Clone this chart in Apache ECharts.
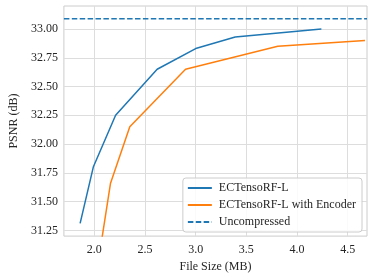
<!DOCTYPE html>
<html>
<head>
<meta charset="utf-8">
<script src="https://cdn.jsdelivr.net/npm/echarts@6/dist/echarts.min.js"></script>
<style>
html,body{margin:0;padding:0;background:#fff;}
#chart{width:374px;height:278px;}
</style>
</head>
<body>
<div id="chart"></div>
<script>
// Data
const blueX = [1.86, 1.99, 2.21, 2.62, 3.00, 3.39, 4.24];
const blueY = [31.31, 31.80, 32.25, 32.65, 32.83, 32.93, 33.00];
const orangeX = [2.07, 2.16, 2.35, 2.90, 3.81, 4.67];
const orangeY = [31.15, 31.66, 32.15, 32.65, 32.85, 32.90];
const uncompressedX = [1.70, 4.69];
const uncompressedY = [33.09, 33.09];
const xTicks = [2.0, 2.5, 3.0, 3.5, 4.0, 4.5];
const yTicks = [31.25, 31.50, 31.75, 32.00, 32.25, 32.50, 32.75, 33.00];
const seriesNames = ['ECTensoRF-L', 'ECTensoRF-L with Encoder', 'Uncompressed'];

const zip = (xs, ys) => xs.map((x, i) => [x, ys[i]]);
const font = 'Liberation Serif';
const textColor = '#262626';

const chart = echarts.init(document.getElementById('chart'), null, {renderer: 'canvas'});
chart.setOption({
  animation: false,
  backgroundColor: '#ffffff',
  grid: {left: 55, right: 7, top: 6, bottom: 40, show: true, borderColor: '#cccccc', borderWidth: 1, containLabel: false},
  xAxis: {
    type: 'value', min: 1.70, max: 4.69,
    name: 'File Size (MB)', nameLocation: 'middle', nameGap: 21,
    nameTextStyle: {fontFamily: font, fontSize: 12, color: textColor},
    axisLine: {show: false},
    axisTick: {show: false, customValues: xTicks},
    axisLabel: {customValues: xTicks, formatter: v => v.toFixed(1), fontFamily: font, fontSize: 12, color: textColor, margin: 8},
    splitLine: {show: true, lineStyle: {color: '#dddddd', width: 1}}
  },
  yAxis: {
    type: 'value', min: 31.2, max: 33.2,
    name: 'PSNR (dB)', nameLocation: 'middle', nameGap: 37,
    nameTextStyle: {fontFamily: font, fontSize: 12, color: textColor},
    axisLine: {show: false},
    axisTick: {show: false, customValues: yTicks},
    axisLabel: {customValues: yTicks, formatter: v => v.toFixed(2), fontFamily: font, fontSize: 12, color: textColor, margin: 6},
    splitLine: {show: true, lineStyle: {color: '#dddddd', width: 1}}
  },
  legend: {
    orient: 'vertical', right: 12, bottom: 46,
    itemWidth: 24, itemHeight: 12, itemGap: 5,
    padding: [4, 6, 4, 4],
    borderColor: '#cccccc', borderWidth: 1, borderRadius: 3,
    backgroundColor: 'rgba(255,255,255,0.85)',
    itemStyle: {opacity: 0},
    textStyle: {fontFamily: font, fontSize: 12, color: textColor, padding: [0, 0, 0, 2]},
    data: seriesNames
  },
  series: [
    {name: seriesNames[0], type: 'line', data: zip(blueX, blueY), symbol: 'none', clip: true,
     lineStyle: {color: '#1f77b4', width: 1.5}, itemStyle: {color: '#1f77b4'}},
    {name: seriesNames[1], type: 'line', data: zip(orangeX, orangeY), symbol: 'none', clip: true,
     lineStyle: {color: '#ff7f0e', width: 1.5}, itemStyle: {color: '#ff7f0e'}},
    {name: seriesNames[2], type: 'line', data: zip(uncompressedX, uncompressedY), symbol: 'none', clip: true,
     lineStyle: {color: '#1f77b4', width: 1.5, type: [5.5, 2.4]}, itemStyle: {color: '#1f77b4'}}
  ]
});
</script>
</body>
</html>
